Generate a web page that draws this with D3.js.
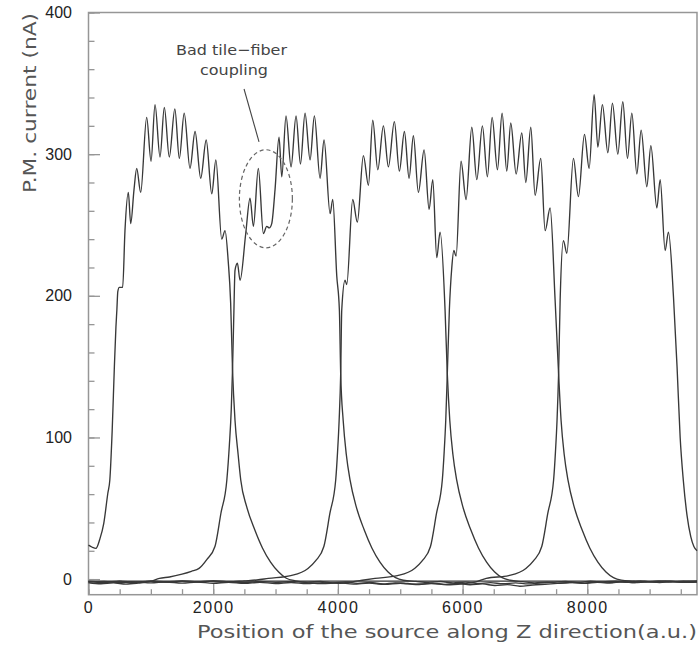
<!DOCTYPE html>
<html>
<head>
<meta charset="utf-8">
<script src="https://cdn.jsdelivr.net/npm/d3@7"></script>
<style>
  html, body { margin: 0; padding: 0; background: #fff; }
  svg { display: block; }
</style>
</head>
<body>
<div id="chart"></div>
<script>
// ---------------- DATA ----------------
const xTickValues = [0, 2000, 4000, 6000, 8000];
const yTickValues = [0, 100, 200, 300, 400];
const xTitle = "Position of the source along Z direction(a.u.)";
const yTitle = "P.M. current (nA)";
const noteLines = ["Bad tile\u2212fiber", "coupling"];

// PM current vs. source position, one array per tile row [position, nA]
const curveA = [[0,24],[60,22.5],[119,21.7],[180,28],[245,39.4],[310,60.6],[342,70],[380,105],[415,150],[440,178],[455,190],[470,203],[494,206],[548,206],[585,246],[639,273],[677,251],[730,275],[773,290],[837,273],[933,326],[1003,295],[1067,335],[1147,298],[1216,333],[1296,298],[1385,332],[1457,297],[1535,329],[1628,290],[1709,316],[1800,283],[1888,310],[1977,272],[2043,296],[2137,240],[2190,246],[2240,225],[2280,195],[2310,148],[2350,112],[2400,88],[2442,70],[2538,51],[2665,35],[2790,22],[2920,12],[3050,5],[3173,0.6],[3320,-1.2],[3520,-2.1],[3720,-1.6],[3920,-2.6],[4120,-2],[4320,-3],[4520,-2.4],[4720,-3.4],[4920,-2.6],[5120,-3.1],[5320,-3.6],[5520,-2.8],[5720,-3.7],[5920,-3],[6120,-4],[6320,-3.4],[6520,-4.5],[6720,-3.9],[6920,-5],[7120,-4.2],[7320,-3.6],[7520,-3],[7720,-2.4],[7920,-2.9],[8120,-2],[8320,-2.6],[8520,-1.8],[8720,-2.4],[8920,-1.7],[9120,-2.2],[9320,-1.6],[9520,-2.1],[9760,-1.8]];

const curveB = [[0,-2.6],[200,-3.3],[400,-2.7],[600,-3.5],[800,-2.8],[1000,-1.6],[1137,0.5],[1300,1.5],[1500,3.5],[1650,5.5],[1773,7.6],[1900,14],[2028,23],[2124,46.5],[2219,70],[2260,95],[2290,120],[2310,148],[2330,185],[2350,218],[2388,223],[2431,211],[2522,244],[2591,269],[2645,249],[2724,290],[2805,244],[2859,249],[2900,248],[2939,251],[2992,275],[3056,312],[3100,284],[3168,327],[3249,291],[3329,327],[3400,293],[3473,329],[3554,296],[3623,327],[3714,283],[3778,310],[3875,258],[3918,268],[3982,214],[4024,190],[4045,145],[4085,112],[4135,88],[4195,70],[4295,51],[4420,35],[4545,22],[4675,12],[4805,5],[4925,1],[5050,-0.8],[5250,-1.6],[5450,-2.3],[5650,-1.7],[5850,-2.7],[6050,-2.1],[6250,-3.1],[6450,-2.5],[6650,-3.3],[6850,-2.6],[7050,-3.4],[7250,-2.7],[7450,-2.1],[7650,-1.6],[7850,-2.3],[8050,-1.5],[8250,-2],[8450,-1.4],[8650,-1.9],[8850,-1.3],[9050,-1.8],[9250,-1.2],[9450,-1.7],[9760,-1.3]];

const curveC = [[0,-1.8],[250,-2.4],[500,-1.6],[750,-2.3],[1000,-1.5],[1250,-2.1],[1500,-1.4],[1750,-2],[2000,-1.3],[2250,-1.9],[2500,-1.2],[2700,-0.6],[2885,0.5],[3245,2.5],[3520,7.5],[3645,13],[3775,23],[3870,46],[3965,70],[3995,90],[4020,112],[4045,145],[4062,190],[4115,211],[4142,208],[4238,268],[4312,252],[4409,299],[4490,278],[4559,324],[4640,289],[4730,320],[4810,291],[4906,323],[4986,288],[5067,316],[5142,283],[5211,313],[5291,273],[5383,303],[5463,261],[5522,282],[5586,227],[5639,245],[5719,190],[5755,145],[5795,112],[5845,88],[5905,70],[6005,51],[6130,35],[6255,22],[6385,12],[6515,5],[6635,1],[6760,-0.8],[6960,-1.8],[7160,-2.7],[7360,-2.1],[7560,-2.9],[7760,-2.3],[7960,-3],[8160,-2.2],[8360,-2.7],[8560,-2],[8760,-2.5],[8960,-1.9],[9160,-2.4],[9360,-1.8],[9560,-2.3],[9760,-2]];

const curveD = [[0,-2.2],[250,-1.6],[500,-2.5],[750,-1.9],[1000,-2.7],[1250,-2],[1500,-2.8],[1750,-2.1],[2000,-2.9],[2250,-2.2],[2500,-3],[2750,-2.3],[3000,-3.1],[3250,-2.4],[3500,-3.2],[3750,-2.5],[4000,-2.9],[4250,-1.8],[4420,-0.6],[4595,0.5],[4955,2.5],[5230,7.5],[5355,13],[5485,23],[5580,46],[5675,70],[5705,90],[5730,112],[5755,145],[5788,190],[5827,220],[5860,232],[5896,228],[5975,295],[6056,268],[6148,319],[6228,282],[6318,320],[6398,284],[6474,326],[6559,289],[6634,329],[6709,288],[6773,322],[6859,286],[6950,315],[7014,280],[7094,319],[7163,271],[7254,297],[7324,246],[7404,262],[7484,197],[7540,145],[7580,112],[7630,88],[7690,70],[7790,51],[7915,35],[8040,22],[8170,12],[8300,5],[8420,1],[8545,-0.7],[8745,-1.4],[8945,-2],[9145,-1.4],[9345,-2.1],[9545,-1.5],[9760,-1.9]];

const curveE = [[0,-1.6],[250,-2.2],[500,-1.5],[750,-2.1],[1000,-1.4],[1250,-2],[1500,-1.3],[1750,-1.9],[2000,-1.2],[2250,-1.8],[2500,-2.4],[2750,-1.7],[3000,-2.3],[3250,-1.6],[3500,-2.5],[3750,-3.2],[4000,-2.6],[4250,-3.5],[4500,-2.8],[4750,-3.7],[5000,-2.9],[5250,-3.8],[5500,-3.1],[5750,-4],[6000,-3.3],[6200,-2.1],[6380,0.5],[6740,2.5],[7015,7.5],[7140,13],[7270,23],[7365,46],[7460,70],[7490,90],[7515,112],[7540,145],[7565,197],[7618,239],[7672,230],[7778,297],[7858,270],[7955,314],[8030,290],[8110,342],[8170,305],[8243,335],[8330,301],[8404,336],[8490,300],[8570,337],[8645,297],[8715,329],[8795,286],[8864,317],[8955,277],[9020,306],[9116,262],[9169,282],[9249,232],[9302,245],[9383,199],[9440,150],[9490,100],[9540,70],[9600,45],[9660,30],[9710,23],[9760,20]];

const pedestal = [[0,-1.4],[9760,-1.4]];

// annotation (data coordinates)
const noteEllipse = { cx: 2845, cy: 268.5, rx: 425, ry: 34.6 };
const noteLeader = [[2495, 346], [2735, 308.7]];
const noteText = [[2294, 370], [2334, 356]];

// ---------------- CHART ----------------
const W = 700, H = 655;
const svg = d3.select("#chart").append("svg").attr("width", W).attr("height", H);

const x = d3.scaleLinear().domain([0, 9760]).range([88.5, 697]);
const y = d3.scaleLinear().domain([-11, 400]).range([594.7, 12.5]);

const frameColor = "#969696";
const tickFont = "'Liberation Sans', Arial, sans-serif";
const titleFont = "'DejaVu Sans', Verdana, sans-serif";

// minor ticks
svg.append("g").attr("transform", `translate(0,${y(-11)})`)
  .call(d3.axisBottom(x).tickValues(d3.range(0, 9760, 500)).tickSize(-5.5).tickFormat(""))
  .call(g => g.select(".domain").remove())
  .call(g => g.selectAll("line").attr("stroke", frameColor).attr("stroke-width", 1.3));
svg.append("g").attr("transform", `translate(${x(0)},0)`)
  .call(d3.axisLeft(y).tickValues(d3.range(0, 401, 20)).tickSize(-6).tickFormat(""))
  .call(g => g.select(".domain").remove())
  .call(g => g.selectAll("line").attr("stroke", frameColor).attr("stroke-width", 1.3));

// major ticks + labels
svg.append("g").attr("transform", `translate(0,${y(-11)})`)
  .call(d3.axisBottom(x).tickValues(xTickValues).tickSize(-11).tickPadding(7).tickFormat(d3.format("d")))
  .call(g => g.select(".domain").remove())
  .call(g => g.selectAll("line").attr("stroke", frameColor).attr("stroke-width", 1.3))
  .call(g => g.selectAll("text").attr("font-family", tickFont).attr("font-size", 16)
      .attr("fill", "#222").attr("letter-spacing", "1.6px"));
svg.append("g").attr("transform", `translate(${x(0)},0)`)
  .call(d3.axisLeft(y).tickValues(yTickValues).tickSize(-11.5).tickPadding(16.5).tickFormat(d3.format("d")))
  .call(g => g.select(".domain").remove())
  .call(g => g.selectAll("line").attr("stroke", frameColor).attr("stroke-width", 1.3))
  .call(g => g.selectAll("text").attr("font-family", tickFont).attr("font-size", 16).attr("fill", "#222"));

// frame
svg.append("rect")
  .attr("x", x(0)).attr("y", y(400))
  .attr("width", x(9760) - x(0)).attr("height", y(-11) - y(400))
  .attr("fill", "none").attr("stroke", frameColor).attr("stroke-width", 1.5);

// curves
const line = d3.line().x(d => x(d[0])).y(d => y(d[1])).curve(d3.curveMonotoneX);
const series = [curveA, curveB, curveC, curveD, curveE];
svg.append("path").datum(pedestal).attr("d", line)
  .attr("fill", "none").attr("stroke", "#333").attr("stroke-width", 1.3);
svg.selectAll("path.curve").data(series).join("path").attr("class", "curve")
  .attr("d", line).attr("fill", "none").attr("stroke", "#383838")
  .attr("stroke-width", 1.35).attr("stroke-linejoin", "round");

// annotation
svg.append("ellipse")
  .attr("cx", x(noteEllipse.cx)).attr("cy", y(noteEllipse.cy))
  .attr("rx", x(noteEllipse.rx) - x(0)).attr("ry", y(0) - y(noteEllipse.ry))
  .attr("fill", "none").attr("stroke", "#666").attr("stroke-width", 1.2)
  .attr("stroke-dasharray", "4,3");
svg.append("line")
  .attr("x1", x(noteLeader[0][0])).attr("y1", y(noteLeader[0][1]))
  .attr("x2", x(noteLeader[1][0])).attr("y2", y(noteLeader[1][1]))
  .attr("stroke", "#444").attr("stroke-width", 1.1);
const noteLens = [111, 68];
noteLines.forEach((t, i) => {
  svg.append("text")
    .attr("x", x(noteText[i][0])).attr("y", y(noteText[i][1]))
    .attr("text-anchor", "middle")
    .attr("font-family", titleFont).attr("font-size", 14.5).attr("fill", "#444")
    .attr("textLength", noteLens[i]).attr("lengthAdjust", "spacingAndGlyphs")
    .text(t);
});

// axis titles
svg.append("text")
  .attr("x", 197).attr("y", 638)
  .attr("font-family", titleFont).attr("font-size", 18).attr("fill", "#555")
  .attr("textLength", 500).attr("lengthAdjust", "spacingAndGlyphs")
  .text(xTitle);
svg.append("text")
  .attr("transform", "translate(35.5,193) rotate(-90)")
  .attr("font-family", titleFont).attr("font-size", 18).attr("fill", "#555")
  .attr("textLength", 180).attr("lengthAdjust", "spacingAndGlyphs")
  .text(yTitle);
</script>
</body>
</html>
